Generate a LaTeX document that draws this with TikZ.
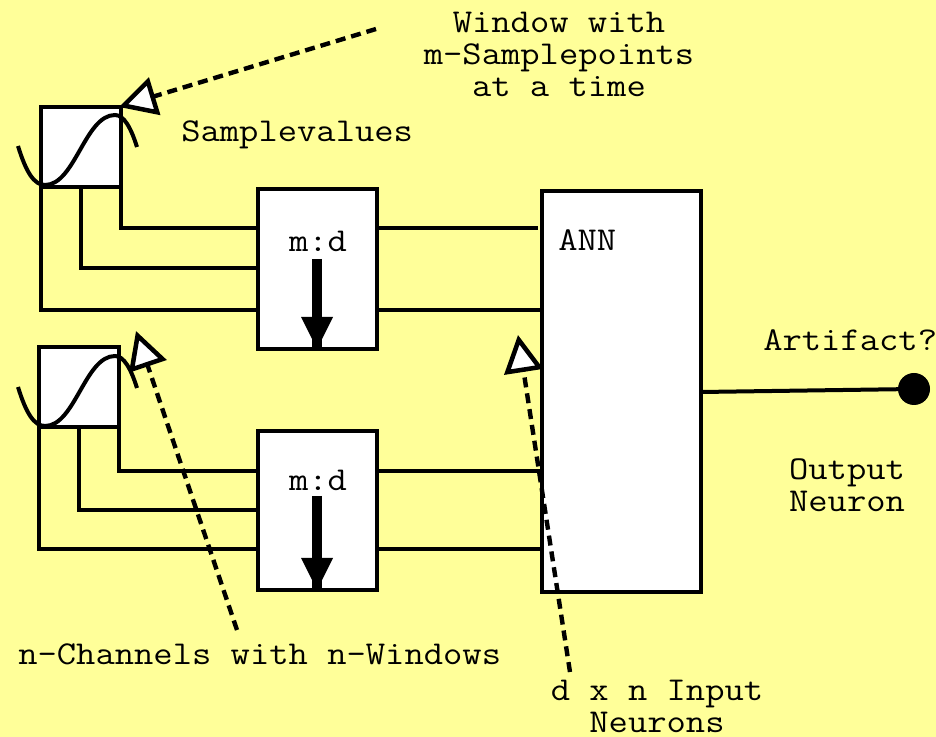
\documentclass[tikz,border=0pt]{standalone}
\usepackage{fontspec}
\setmonofont[FakeStretch=1.125]{Latin Modern Mono}
\usetikzlibrary{arrows.meta,calc}
\definecolor{paper}{HTML}{FFFF99}
\tikzset{
	boxnode/.style={draw,fill=white,line width=3pt,outer sep=0pt,inner sep=0pt},
	wire/.style={line width=3pt},
	pointer/.style={line width=3.3pt,dash pattern=on 7.5pt off 4.5pt,
		-{Triangle[fill=white,length=28pt,width=29pt,line width=3.4pt]}},
	label/.style={inner sep=0pt,align=center,
		font=\ttfamily\fontsize{25}{24}\selectfont}
}
\begin{document}
\begin{tikzpicture}[x=0.75pt,y=-0.75pt]
		\useasboundingbox (0,0) rectangle (936,737);
		\fill[paper] (0,0) rectangle (936,737);
		% windows
		\node[boxnode,minimum width=60pt,minimum height=60pt] (win1) at (81,147) {};
		\node[boxnode,minimum width=60pt,minimum height=60pt] (win2) at (79,387) {};
		% decimation
		\node[boxnode,minimum width=89.25pt,minimum height=120pt] (dec1) at (317.5,269.5) {};
		\node[boxnode,minimum width=89.25pt,minimum height=119.25pt] (dec2) at (317.5,511) {};
		% network
		\node[boxnode,minimum width=119.25pt,minimum height=300.75pt] (ann) at (621.5,392) {};
		\coordinate (dec1a) at (258,228.5);
		\coordinate (dec1b) at (258,268.5);
		\coordinate (dec1c) at (258,310.5);
		\coordinate (dec2a) at (258,471.5);
		\coordinate (dec2b) at (258,510.5);
		\coordinate (dec2c) at (258,549.5);
		\draw[wire] (win1.south east) |- (dec1a);
		\draw[wire] (win1.south) |- (dec1b);
		\draw[wire] (win1.south west) |- (dec1c);
		\draw[wire] (win2.south east) |- (dec2a);
		\draw[wire] (win2.south) |- (dec2b);
		\draw[wire] (win2.south west) |- (dec2c);
		\coordinate (ann1) at (538,228.5);
		\draw[wire] (dec1a -| dec1.east) -- (ann1);
		\draw[wire] (dec1c -| dec1.east) -- (dec1c -| ann.west);
		\draw[wire] (dec2a -| dec2.east) -- (dec2a -| ann.west);
		\draw[wire] (dec2c -| dec2.east) -- (dec2c -| ann.west);
		% signal
		\foreach \y in {0,241}
		\draw[wire] (18,146+\y) .. controls (26,172+\y) and (34,185+\y) .. (45,185+\y)
		.. controls (75,185+\y) and (85,115+\y) .. (115,115+\y)
		.. controls (124,115+\y) and (131,128+\y) .. (137,147+\y);
		% thick arrows
		\draw[line width=7.5pt] (317,259) -- (dec1.south -| 317,0);
		\fill (301,317) -- (333,317) -- (317,349) -- cycle;
		\draw[line width=7.5pt] (317,496) -- (dec2.south -| 317,0);
		\fill (301,558) -- (333,558) -- (317,590) -- cycle;
		% output
		\node[circle,fill=black,minimum size=24pt,inner sep=0pt,outer sep=0pt] (out) at (914,389) {};
		\draw[wire] (ann.east |- 0,392) -- (out);
		% pointers
		\coordinate (p1) at (376,29);
		\coordinate (p2) at (237,630);
		\coordinate (p3) at (570,672);
		\coordinate (t1) at (119,107);
		\coordinate (t2) at (136,331);
		\coordinate (t3) at (518,335);
		\draw[pointer] (p1) -- (t1);
		\draw[pointer] (p2) -- (t2);
		\draw[pointer] (p3) -- (t3);
		% texts
		\node[label] (lwin) at (559,54) {Window with\\m-Samplepoints\\at a time};
		\node[label,anchor=west] (lsam) at (181,135) {Samplevalues};
		\node[label] (lmd1) at (318,241) {m:d};
		\node[label] (lmd2) at (318,480) {m:d};
		\node[label,anchor=west] (lann) at (558,240) {ANN};
		\node[label,anchor=west] (lart) at (763,340) {Artifact?};
		\node[label] (lout) at (847,485) {Output\\Neuron};
		\node[label,anchor=west] (lcha) at (18,654) {n-Channels with n-Windows};
		\node[label] (linp) at (657,706) {d x n Input\\Neurons};
		\end{tikzpicture}
\end{document}
